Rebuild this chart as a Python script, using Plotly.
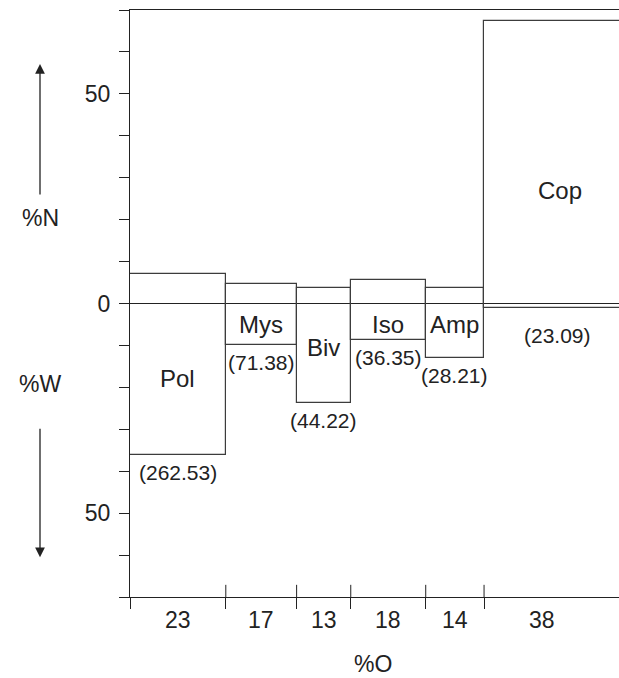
import plotly.graph_objects as go

# ---- data ----
prey = ["Pol", "Mys", "Biv", "Iso", "Amp", "Cop"]
pct_O = [23, 17, 13, 18, 14, 38]          # frequency of occurrence (bar width)
pct_N = [7.1, 4.7, 3.6, 5.5, 3.6, 67.4]   # numeric % (upwards)
pct_W = [36.2, 10.0, 23.8, 8.8, 13.1, 1.0]  # weight % (downwards)
iri = ["262.53", "71.38", "44.22", "36.35", "28.21", "23.09"]
y_ticks = list(range(-70, 71, 10))
y_labels = {50: "50", 0: "0", -50: "50"}

# ---- derived geometry ----
XMAX = 117.4
lefts, acc = [], 0
for o in pct_O:
    lefts.append(acc)
    acc += o
rights = [l + o for l, o in zip(lefts, pct_O)]
centers = [(l + r) / 2 for l, r in zip(lefts, rights)]
vis_mid = [(l + min(r, XMAX)) / 2 for l, r in zip(lefts, rights)]

FONT = "Liberation Sans, Arial, sans-serif"
INK = "#222222"

fig = go.Figure()
fig.add_trace(go.Bar(
    x=centers,
    y=[n + w for n, w in zip(pct_N, pct_W)],
    base=[-w for w in pct_W],
    width=pct_O,
    marker=dict(color="rgba(0,0,0,0)", line=dict(color="#3c3c3c", width=1.2)),
    hoverinfo="skip",
    showlegend=False,
))

# inner half of the x boundary ticks
shapes = []
for b in lefts[1:]:
    shapes.append(dict(type="line", xref="x", yref="y", x0=b, x1=b, y0=-70, y1=-67.1,
                       line=dict(color=INK, width=1)))

ann = []
# prey names
name_y = {"Pol": -18, "Mys": -5, "Biv": -10.5, "Iso": -5, "Amp": -5, "Cop": 27}
for p, c, vm, r in zip(prey, centers, vis_mid, rights):
    cx = c if r <= XMAX else vm + 2
    ann.append(dict(x=cx, y=name_y[p], xref="x", yref="y", text=p, showarrow=False,
                    xanchor="center", yanchor="middle",
                    font=dict(family=FONT, size=24, color=INK)))
# IRI values below each box
for p, c, vm, r, w, v in zip(prey, centers, vis_mid, rights, pct_W, iri):
    cx = c if r <= XMAX else vm + 1.5
    ann.append(dict(x=cx, y=-w, xref="x", yref="y", text="(" + v + ")", showarrow=False,
                    xanchor="center", yanchor="top", yshift=-4 if p != "Cop" else -14,
                    font=dict(family=FONT, size=21, color=INK)))
# %O labels along the x axis
for o, vm, r in zip(pct_O, vis_mid, rights):
    cx = vm if r <= XMAX else vm - 2.2
    ann.append(dict(x=cx, y=-70, xref="x", yref="y", text=str(o), showarrow=False,
                    xanchor="center", yanchor="top", yshift=-8,
                    font=dict(family=FONT, size=23, color=INK)))
# axis titles
ann.append(dict(x=0.497, y=-0.114, xref="paper", yref="paper", text="%O", showarrow=False,
                xanchor="center", yanchor="middle",
                font=dict(family=FONT, size=23, color=INK)))
ax_x = -90 / 489
ann.append(dict(x=ax_x, y=20.5, xref="paper", yref="y", text="%N", showarrow=False,
                xanchor="center", yanchor="middle",
                font=dict(family=FONT, size=23, color=INK)))
ann.append(dict(x=ax_x, y=-19.3, xref="paper", yref="y", text="%W", showarrow=False,
                xanchor="center", yanchor="middle",
                font=dict(family=FONT, size=23, color=INK)))
# arrows
ann.append(dict(x=ax_x, y=57.1, xref="paper", yref="y", text="", showarrow=True,
                ax=0, ay=132, arrowhead=2, arrowsize=1.5, arrowwidth=1.3, arrowcolor=INK))
ann.append(dict(x=ax_x, y=-60.5, xref="paper", yref="y", text="", showarrow=True,
                ax=0, ay=-130, arrowhead=2, arrowsize=1.5, arrowwidth=1.3, arrowcolor=INK))

fig.update_layout(
    width=619, height=678, autosize=False,
    margin=dict(l=130, r=0, t=10, b=81),
    paper_bgcolor="white", plot_bgcolor="white",
    shapes=shapes, annotations=ann,
    bargap=0,
    xaxis=dict(range=[0, XMAX], tickvals=lefts, showticklabels=False,
               ticks="outside", ticklen=11, tickcolor=INK, tickwidth=1,
               showline=True, linecolor=INK, linewidth=1, mirror=True,
               showgrid=False, zeroline=False, fixedrange=True),
    yaxis=dict(range=[-70, 70], tickvals=y_ticks,
               ticktext=[y_labels.get(t, "") for t in y_ticks],
               ticks="outside", ticklen=10, tickcolor=INK, tickwidth=1,
               ticklabelstandoff=4,
               tickfont=dict(family=FONT, size=23, color=INK),
               showline=True, linecolor=INK, linewidth=1,
               showgrid=False, zeroline=True, zerolinecolor=INK, zerolinewidth=1,
               fixedrange=True),
)

fig.write_html("out.html", config={"displayModeBar": False},
               post_script="document.body.style.margin='0';document.body.style.overflow='hidden';")
